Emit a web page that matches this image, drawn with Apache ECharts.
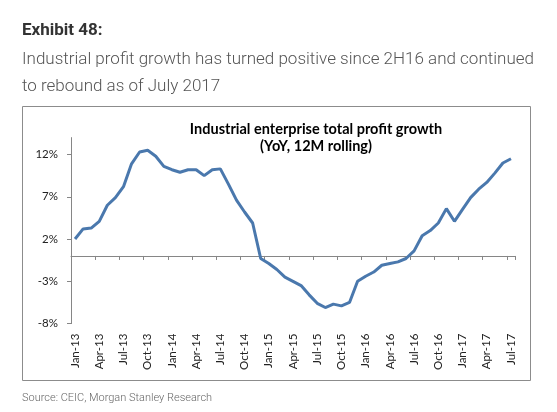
<!DOCTYPE html>
<html><head><meta charset="utf-8">
<script src="https://cdn.jsdelivr.net/npm/echarts@6/dist/echarts.min.js"></script>
<style>html,body{margin:0;padding:0;background:#fff}#c{width:557px;height:412px}</style>
</head><body><div id="c"></div>
<script>
const categories = [
  'Jan-13','Feb-13','Mar-13','Apr-13','May-13','Jun-13','Jul-13','Aug-13','Sep-13','Oct-13','Nov-13','Dec-13',
  'Jan-14','Feb-14','Mar-14','Apr-14','May-14','Jun-14','Jul-14','Aug-14','Sep-14','Oct-14','Nov-14','Dec-14',
  'Jan-15','Feb-15','Mar-15','Apr-15','May-15','Jun-15','Jul-15','Aug-15','Sep-15','Oct-15','Nov-15','Dec-15',
  'Jan-16','Feb-16','Mar-16','Apr-16','May-16','Jun-16','Jul-16','Aug-16','Sep-16','Oct-16','Nov-16','Dec-16',
  'Jan-17','Feb-17','Mar-17','Apr-17','May-17','Jun-17','Jul-17'
];
const profitGrowth = [
  2.0, 3.2, 3.3, 4.1, 6.0, 6.9, 8.2, 10.9, 12.3, 12.5, 11.8, 10.6,
  10.2, 9.9, 10.2, 10.2, 9.5, 10.2, 10.3, 8.5, 6.6, 5.2, 3.9, -0.3,
  -0.9, -1.6, -2.5, -3.0, -3.5, -4.6, -5.6, -6.1, -5.7, -5.9, -5.5, -3.0,
  -2.4, -1.9, -1.1, -0.9, -0.7, -0.3, 0.6, 2.4, 3.0, 3.9, 5.6, 4.1,
  5.5, 6.9, 7.9, 8.7, 9.8, 11.0, 11.5
];
const yTickValues = [-8, -3, 2, 7, 12];
const headerTitle = 'Exhibit 48:';
const headerSubtitle = [
  'Industrial profit growth has turned positive since 2H16 and continued',
  'to rebound as of July 2017'
];
const chartTitle = ['Industrial enterprise total profit growth', '(YoY, 12M rolling)'];
const sourceNote = 'Source: CEIC, Morgan Stanley Research';

const chart = echarts.init(document.getElementById('c'), null, {renderer: 'canvas'});
const axisGray = '#868686';
chart.setOption({
  animation: false,
  backgroundColor: '#fff',
  grid: {left: 71, right: 42, top: 137.6, bottom: 88.4, containLabel: false, outerBoundsMode: 'none'},
  xAxis: [
    {
      type: 'category', data: categories, boundaryGap: true, position: 'bottom',
      axisLine: {show: false, onZero: false}, axisTick: {show: false},
      axisLabel: {interval: 2, rotate: 90, margin: 10, fontFamily: 'Lato', fontSize: 11.5, color: '#222'},
      splitLine: {show: false}
    },
    {
      type: 'category', data: categories, boundaryGap: true, position: 'bottom',
      axisLine: {show: true, onZero: true, lineStyle: {color: axisGray, width: 1}},
      axisTick: {show: true, interval: 2, length: 4, lineStyle: {color: axisGray}},
      axisLabel: {show: false}, splitLine: {show: false}
    }
  ],
  yAxis: {
    type: 'value', min: -8, max: 14,
    axisLine: {show: true, onZero: false, lineStyle: {color: axisGray, width: 1}},
    axisTick: {show: true, length: 4, customValues: yTickValues, lineStyle: {color: axisGray}},
    axisLabel: {customValues: yTickValues, formatter: '{value}%', margin: 13, fontFamily: 'Lato', fontSize: 11.5, color: '#222'},
    splitLine: {show: false}
  },
  series: [{
    type: 'line', data: profitGrowth, xAxisIndex: 0, yAxisIndex: 0,
    symbol: 'none', smooth: false,
    lineStyle: {color: '#4a78ad', width: 3}
  }],
  graphic: [
    {type: 'rect', shape: {x: 22.5, y: 106.5, width: 508, height: 274}, style: {fill: 'none', stroke: '#8c8c8c', lineWidth: 1}, z: -1},
    {type: 'text', x: 22, y: 30.5, style: {text: headerTitle, font: 'bold 17px Roboto', fill: '#333', textVerticalAlign: 'middle'}},
    {type: 'text', x: 22, y: 59.5, style: {text: headerSubtitle[0], font: '300 17px Roboto', fill: '#555', textVerticalAlign: 'middle'}},
    {type: 'text', x: 22, y: 86.5, style: {text: headerSubtitle[1], font: '300 17px Roboto', fill: '#555', textVerticalAlign: 'middle'}},
    {type: 'text', x: 316, y: 129.5, style: {text: chartTitle[0], font: 'bold 14.5px Lato', fill: '#000', textAlign: 'center', textVerticalAlign: 'middle'}},
    {type: 'text', x: 316, y: 146, style: {text: chartTitle[1], font: 'bold 14.5px Lato', fill: '#000', textAlign: 'center', textVerticalAlign: 'middle'}},
    {type: 'text', x: 22, y: 398, style: {text: sourceNote, font: '300 11px Roboto', fill: '#666', textVerticalAlign: 'middle'}}
  ]
});
</script></body></html>
